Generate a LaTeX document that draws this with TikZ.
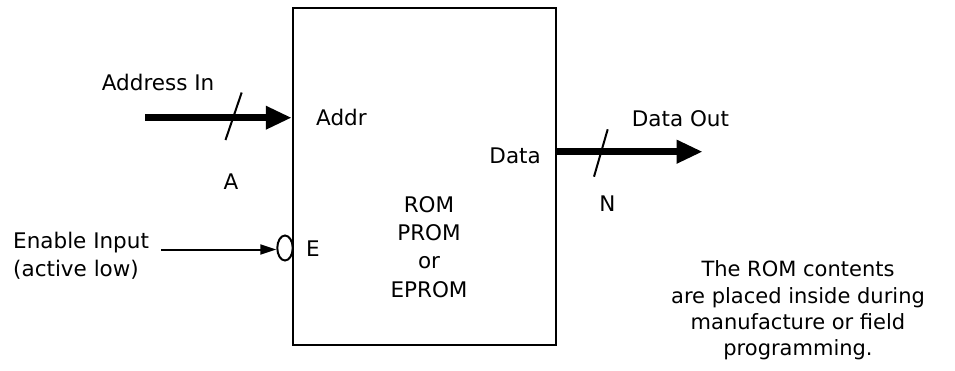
\documentclass[tikz,border=0pt]{standalone}
\usepackage{fontspec}
\setmainfont{DejaVu Sans}
\usetikzlibrary{arrows.meta,shapes.geometric}
\begin{document}
\begin{tikzpicture}[x=1pt,y=-1pt,
  txt/.style={inner sep=0pt,font=\fontsize{21.5}{28.3}\selectfont},
  notetxt/.style={inner sep=0pt,align=center,font=\fontsize{21}{26.1}\selectfont},
  bus/.style={line width=7.5pt,-{Triangle[length=26pt,width=22pt]}},
  sig/.style={line width=2pt,-{Triangle[length=16pt,width=10pt]}},
  slash/.style={line width=2pt},
  chip/.style={draw,line width=2.5pt,minimum width=263pt,minimum height=337pt,inner sep=0pt}]
\useasboundingbox (0,0) rectangle (955,370);
% chip
\node[chip] (rom) at (424.5,176.5) {};
\node[txt,align=center] (romtxt) at (429,247) {ROM\\PROM\\or\\EPROM};
% address bus
\coordinate (addrin) at (145,117.7);
\draw[bus] (addrin) -- (rom.west |- addrin);
\draw[slash] (225.5,140) -- (241.7,92.5);
\node[txt,anchor=base west] (addrlbl) at (101.7,90) {Address In};
\node[txt,anchor=base west] (addrpin) at (316,125) {Addr};
\node[txt,anchor=base] (awidth) at (231,189.3) {A};
% enable input
\node[draw,ellipse,line width=2pt,minimum width=15.4pt,minimum height=25pt,inner sep=0pt] (bubble) at (285,248) {};
\coordinate (enin) at (161,249.5);
\draw[sig] (enin) -- (bubble.west |- enin);
\node[txt,align=left,anchor=west] (enlbl) at (13,255.4) {Enable Input\\(active low)};
\node[txt,anchor=base west] (epin) at (306,256.7) {E};
% data out
\coordinate (dataout) at (702.7,151.7);
\draw[bus] (rom.east |- dataout) -- (dataout);
\draw[slash] (594,176.7) -- (607.7,129.3);
\node[txt,anchor=base east] (datapin) at (541,163.3) {Data};
\node[txt,anchor=base west] (datalbl) at (631.7,126.7) {Data Out};
\node[txt,anchor=base] (nwidth) at (607.5,211.7) {N};
% note
\node[notetxt] (note) at (798,310.3) {The ROM contents\\are placed inside during\\manufacture or field\\programming.};
\end{tikzpicture}
\end{document}
